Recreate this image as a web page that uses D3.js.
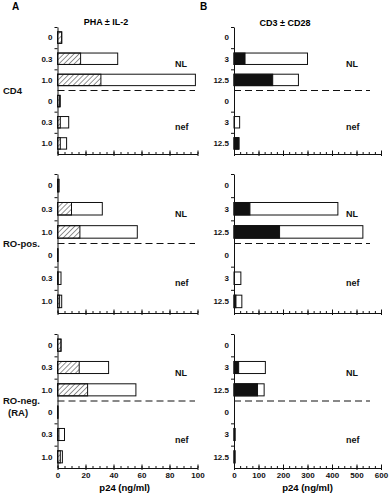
<!DOCTYPE html>
<meta charset="utf-8">
<html lang="en">
<head>
<title>p24 bars</title>
<style>
  body { margin: 0; background: #fff; }
  svg { font-family: "Liberation Sans", Arial, sans-serif; font-weight: bold; }
  .axis path, .axis line { stroke: #111; }
  .axis text { font-size: 8px; font-weight: bold; fill: #111; font-family: "Liberation Sans", Arial, sans-serif; }
</style>
</head>
<body>
<svg width="390" height="498"></svg>
<script src="https://d3js.org/d3.v7.min.js"></script>
<script>

// categories (stimulus dose) for each panel, NL group then nef group
var catsA = ["0", "0.3", "1.0", "0", "0.3", "1.0"]
var catsB = ["0", "3", "12.5", "0", "3", "12.5"]
var groups = ["NL", "nef"]
var rowLabels = [["CD4"], ["RO-pos."], ["RO-neg.", "(RA)"]]

// panel A: PHA alone (hatched) and PHA + IL-2 (whole bar), p24 ng/ml
var phaAlone = [
  [3, 16.5, 31, 1.5, 2, 2],
  [1, 10, 16, 0.3, 0.5, 1.5],
  [2.5, 15.5, 21.5, 0.3, 1, 2]
]
var phaIL2 = [
  [3, 43, 98.5, 2, 8, 6.5],
  [1, 32, 57, 0.3, 2.5, 3],
  [2.5, 36.5, 56, 0.3, 5, 3.5]
]

// panel B: CD3 alone (black) and CD3 + CD28 (whole bar), p24 ng/ml
var cd3Alone = [
  [0, 45, 158, 0, 0, 20],
  [0, 65, 186, 0, 0, 8],
  [0, 19, 96, 0, 4, 4]
]
var cd3CD28 = [
  [0, 300, 263, 0, 23, 20],
  [0, 424, 526, 0, 28, 32],
  [0, 128, 123, 0, 4, 4]
]

var ticksA = d3.range(0, 101, 20)
var ticksB = d3.range(0, 601, 100)

var svg = d3.select('svg')

// hatch pattern for the PHA-alone part
svg.append('defs').append('pattern')
  .attr('id', 'hatch')
  .attr('patternUnits', 'userSpaceOnUse')
  .attr('width', 3.6).attr('height', 3.6)
  .attr('patternTransform', 'rotate(45)')
  .append('line')
    .attr('x1', 0).attr('y1', 0).attr('x2', 0).attr('y2', 3.6)
    .attr('stroke', '#111').attr('stroke-width', 0.9)

var xA = d3.scaleLinear().domain([0, 100]).range([57.5, 197.5])
var xB = d3.scaleLinear().domain([0, 600]).range([234, 381])

// vertical extent of each row of sub-panels
var rowTops = [27, 174, 334]
var rowBottoms = [154, 313, 468]

var panels = [
  { x: xA, cats: catsA, inner: phaAlone, total: phaIL2, fill: 'url(#hatch)',
    minor: 5, ticks: ticksA, dashEnd: 195, labelX: 175 },
  { x: xB, cats: catsB, inner: cd3Alone, total: cd3CD28, fill: '#111',
    minor: 25, ticks: ticksB, dashEnd: 370, labelX: 346 }
]

rowLabels.forEach(function (lines, r) {
  var top = rowTops[r], bottom = rowBottoms[r]
  var idx = d3.range(6)
  var y = d3.scaleBand().domain(idx).range([top, bottom]).paddingInner(0.46).paddingOuter(0.23)
  var yEdge = d3.scaleLinear().domain([0, 6]).range([top, bottom])

  panels.forEach(function (p) {
    var g = svg.append('g')
    var x0 = p.x(0)

    // bars: full (white) then the stimulus-alone part on top
    g.selectAll('rect.total').data(p.total[r]).enter().append('rect')
      .attr('class', 'total')
      .attr('x', x0)
      .attr('y', function (d, i) { return y(i) })
      .attr('width', function (d) { return p.x(d) - x0 })
      .attr('height', y.bandwidth())
      .attr('fill', '#fff').attr('stroke', '#111').attr('stroke-width', 1)
    g.selectAll('rect.inner').data(p.inner[r]).enter().append('rect')
      .attr('class', 'inner')
      .attr('x', x0)
      .attr('y', function (d, i) { return y(i) })
      .attr('width', function (d) { return p.x(d) - x0 })
      .attr('height', y.bandwidth())
      .attr('fill', p.fill).attr('stroke', '#111').attr('stroke-width', 1)

    // y axis with ticks between categories
    g.append('g').attr('class', 'axis')
      .attr('transform', 'translate(' + x0 + ',0)')
      .call(d3.axisLeft(yEdge).tickValues([0, 1, 2, 4, 5]).tickFormat('').tickSizeInner(3).tickSizeOuter(0))

    g.selectAll('text.cat').data(p.cats).enter().append('text')
      .attr('class', 'cat')
      .attr('x', x0 - 5)
      .attr('y', function (d, i) { return y(i) + y.bandwidth() / 2 })
      .attr('dy', '0.35em')
      .attr('text-anchor', 'end')
      .attr('font-size', 8).attr('fill', '#111')
      .text(function (d) { return d })

    // dashed separator between NL and nef
    g.append('line')
      .attr('x1', x0).attr('x2', p.dashEnd)
      .attr('y1', yEdge(3)).attr('y2', yEdge(3))
      .attr('stroke', '#111').attr('stroke-width', 1).attr('stroke-dasharray', '7,4')

    g.selectAll('text.grp').data(groups).enter().append('text')
      .attr('class', 'grp')
      .attr('x', p.labelX)
      .attr('y', function (d, i) { return y(i * 3 + 1) + y.bandwidth() / 2 + 5 })
      .attr('dy', '0.35em')
      .attr('font-size', 9).attr('fill', '#111')
      .text(function (d) { return d })

    // x axis: minor ticks up, majors crossing
    var domMax = p.x.domain()[1]
    g.append('g').attr('class', 'axis')
      .attr('transform', 'translate(0,' + bottom + ')')
      .call(d3.axisBottom(p.x).tickValues(d3.range(0, domMax + 1, p.minor)).tickFormat('').tickSizeInner(-2).tickSizeOuter(0))
    var major = d3.axisBottom(p.x).tickValues(p.ticks).tickSizeInner(2).tickSizeOuter(0).tickPadding(2)
    if (r < 2) major.tickFormat('')
    var mg = g.append('g').attr('class', 'axis')
      .attr('transform', 'translate(0,' + bottom + ')')
      .call(major)
    mg.select('.domain').remove()
    mg.selectAll('.tick').append('line').attr('y2', -3.5).attr('stroke', '#111')
  })

  // row label on the left
  var lbl = svg.append('text')
    .attr('y', yEdge(3) + 3)
    .attr('font-size', 9.5).attr('fill', '#111')
  lbl.selectAll('tspan').data(lines).enter().append('tspan')
    .attr('x', function (d, i) { return i === 0 ? 3 : 8 })
    .attr('dy', function (d, i) { return i === 0 ? 0 : 12 })
    .text(function (d) { return d })
})

// panel letters, titles, axis titles
svg.append('text').attr('x', 12).attr('y', 10).attr('font-size', 10).text('A')
svg.append('text').attr('x', 200).attr('y', 10).attr('font-size', 10).text('B')
svg.append('text').attr('x', 106).attr('y', 25).attr('text-anchor', 'middle').attr('font-size', 9).text('PHA \u00b1 IL-2')
svg.append('text').attr('x', 285).attr('y', 26).attr('text-anchor', 'middle').attr('font-size', 9).text('CD3 \u00b1 CD28')
svg.append('text').attr('x', xA(48)).attr('y', 491).attr('text-anchor', 'middle').attr('font-size', 9.5).text('p24 (ng/ml)')
svg.append('text').attr('x', xB(300)).attr('y', 491).attr('text-anchor', 'middle').attr('font-size', 9.5).text('p24 (ng/ml)')

</script>
</body>
</html>
